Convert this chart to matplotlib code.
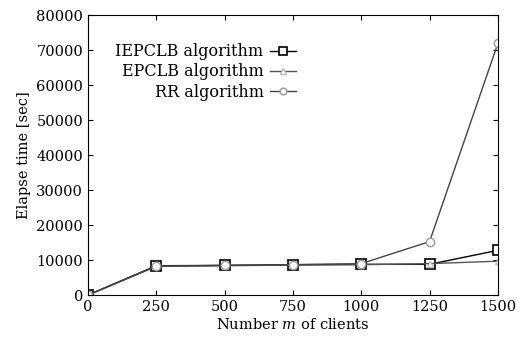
import matplotlib.pyplot as plt

plt.rcParams["font.family"] = "DejaVu Serif"
plt.rcParams["mathtext.fontset"] = "dejavuserif"

clients = [0, 250, 500, 750, 1000, 1250, 1500]
iepclb = [0, 8400, 8500, 8700, 8800, 8800, 12800]
epclb = [0, 8200, 8400, 8600, 8700, 9000, 9700]
rr = [0, 8300, 8500, 8700, 9000, 15300, 72000]

fig, ax = plt.subplots(figsize=(5.23, 3.4), dpi=100)
fig.subplots_adjust(left=0.168, right=0.952, top=0.955, bottom=0.132)

ax.plot(clients, iepclb, color="black", lw=1.0, marker="s", ms=7,
        mfc="white", mec="black", mew=1.2, label="IEPCLB algorithm")
ax.plot(clients, epclb, color="#555555", lw=1.0, marker="^", ms=5,
        mfc="white", mec="#bbbbbb", mew=1.0, label="EPCLB algorithm")
ax.plot(clients, rr, color="#444444", lw=1.0, marker="o", ms=6,
        mfc="white", mec="#999999", mew=1.0, label="RR algorithm")

ax.set_xlim(0, 1500)
ax.set_ylim(0, 80000)
ax.set_xticks(clients)
ax.set_yticks(range(0, 80001, 10000))
ax.tick_params(direction="in", top=True, right=True, labelsize=10.5)
ax.set_xlabel("Number $m$ of clients", fontsize=10.5, labelpad=2)
ax.set_ylabel("Elapse time [sec]", fontsize=10.5)

ax.legend(loc="upper left", bbox_to_anchor=(0.04, 0.94), markerfirst=False,
          frameon=False, fontsize=11.5, handlelength=1.6, handletextpad=0.4,
          labelspacing=0.2, borderpad=0.2, markerscale=0.8)
leg = ax.get_legend()
for t in leg.get_texts():
    t.set_ha("right")
leg._legend_box.align = "right"

plt.savefig("out.png")
